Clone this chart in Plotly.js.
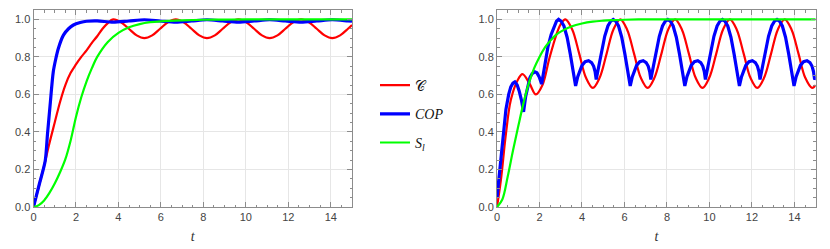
<!DOCTYPE html>
<html>
<head>
<meta charset="utf-8">
<script src="https://cdn.plot.ly/plotly-3.0.1.min.js"></script>
<style>html,body{margin:0;padding:0;background:#fff;}#chart{width:830px;height:249px;}</style>
</head>
<body>
<div id="chart"></div>
<script>
// ---- Left panel data ----
const tLeftC = [0,0.25,0.5,0.75,1.0,1.25,1.5,1.75,2.0,2.25,2.5,2.75,3.0,3.25,3.5,3.75,4.12,4.49,4.86,5.22,5.59,5.96,6.33,6.70,7.07,7.44,7.81,8.17,8.54,8.91,9.28,9.65,10.02,10.39,10.76,11.12,11.49,11.86,12.23,12.60,12.97,13.34,13.71,14.07,14.44,14.81,15.0];
const cLeft = [0,0.11,0.22,0.34,0.45,0.56,0.65,0.715,0.76,0.8,0.835,0.875,0.91,0.95,0.98,1.0,0.985,0.95,0.915,0.9,0.915,0.95,0.985,1.0,0.985,0.95,0.915,0.9,0.915,0.95,0.985,1.0,0.985,0.95,0.915,0.9,0.915,0.95,0.985,1.0,0.985,0.95,0.915,0.9,0.915,0.95,0.97];

const tLeftCOP = [0,0.27,0.55,0.66,0.78,0.93,1.05,1.17,1.41,1.65,1.88,2.2,2.5,3.0,3.75,4.49,5.22,5.96,6.70,7.44,8.17,8.91,9.65,10.39,11.12,11.86,12.60,13.34,14.07,14.81,15.0];
const copLeft = [0,0.12,0.245,0.39,0.54,0.72,0.79,0.845,0.916,0.95,0.97,0.983,0.99,0.992,0.985,0.9915,0.998,0.9915,0.985,0.9915,0.998,0.9915,0.985,0.9915,0.998,0.9915,0.985,0.9915,0.998,0.9915,0.99];

const tLeftS = [0,0.25,0.5,0.75,1.0,1.25,1.5,1.75,2.0,2.25,2.5,2.75,3.0,3.5,4.0,4.5,5.0,5.5,6.0,7.0,8.0,9.0,10.0,12.0,15.0];
const sLeft = [0,0.01,0.035,0.075,0.125,0.185,0.255,0.355,0.48,0.585,0.67,0.74,0.8,0.88,0.928,0.958,0.975,0.985,0.99,0.995,0.998,0.999,1.0,1.0,1.0];

// ---- Right panel data ----
const tRightC = [0,0.18,0.42,0.65,0.97,1.2,1.52,1.83,2.14,2.46,2.8,3.0,3.22,3.54,3.87,4.19,4.51,4.83,5.16,5.48,5.80,6.12,6.45,6.77,7.09,7.41,7.74,8.06,8.38,8.70,9.03,9.35,9.67,9.99,10.32,10.64,10.96,11.28,11.61,11.93,12.25,12.57,12.90,13.22,13.54,13.86,14.19,14.51,14.83,15.0];
const cRight = [0,0.14,0.39,0.57,0.676,0.708,0.66,0.6,0.65,0.79,0.92,0.975,1.0,0.9465,0.8175,0.6885,0.635,0.6885,0.8175,0.9465,1.0,0.9465,0.8175,0.6885,0.635,0.6885,0.8175,0.9465,1.0,0.9465,0.8175,0.6885,0.635,0.6885,0.8175,0.9465,1.0,0.9465,0.8175,0.6885,0.635,0.6885,0.8175,0.9465,1.0,0.9465,0.8175,0.6885,0.635,0.65];

const tRightCOP = [0,0.09,0.18,0.3,0.42,0.55,0.65,0.75,0.84,0.95,1.04,1.15,1.25,1.35,1.45,1.55,1.65,1.78,1.88,1.98,2.1,2.2,2.3,2.4,2.55,2.7,2.8,
  2.9,3.02,3.15,3.3,3.45,3.58,3.7,3.8,3.9,4.0,4.15,4.31,4.45,4.55,4.62,4.67,4.79,4.92,5.07,5.22,5.35,
  5.47,5.59,5.72,5.87,6.02,6.15,6.27,6.37,6.47,6.57,6.72,6.88,7.02,7.12,7.19,7.24,7.36,7.49,7.64,7.79,7.92,
  8.04,8.16,8.29,8.44,8.59,8.72,8.84,8.94,9.04,9.14,9.29,9.45,9.59,9.69,9.76,9.81,9.93,10.06,10.21,10.36,10.49,
  10.61,10.73,10.86,11.01,11.16,11.29,11.41,11.51,11.61,11.71,11.86,12.02,12.16,12.26,12.33,12.38,12.50,12.63,12.78,12.93,13.06,
  13.18,13.30,13.43,13.58,13.73,13.86,13.98,14.08,14.18,14.28,14.43,14.59,14.73,14.83,14.90,14.95,15.0];
const copRight = [0.05,0.15,0.25,0.39,0.52,0.6,0.64,0.66,0.667,0.65,0.62,0.57,0.507,0.59,0.65,0.69,0.71,0.72,0.715,0.695,0.655,0.72,0.79,0.855,0.92,0.97,0.99,
  1.0,0.99,0.965,0.905,0.815,0.735,0.645,0.695,0.73,0.755,0.775,0.78,0.77,0.75,0.72,0.68,0.75,0.83,0.91,0.965,0.99,
  1.0,0.99,0.965,0.905,0.815,0.735,0.645,0.695,0.73,0.755,0.775,0.78,0.77,0.75,0.72,0.68,0.75,0.83,0.91,0.965,0.99,
  1.0,0.99,0.965,0.905,0.815,0.735,0.645,0.695,0.73,0.755,0.775,0.78,0.77,0.75,0.72,0.68,0.75,0.83,0.91,0.965,0.99,
  1.0,0.99,0.965,0.905,0.815,0.735,0.645,0.695,0.73,0.755,0.775,0.78,0.77,0.75,0.72,0.68,0.75,0.83,0.91,0.965,0.99,
  1.0,0.99,0.965,0.905,0.815,0.735,0.645,0.695,0.73,0.755,0.775,0.78,0.77,0.75,0.72,0.68,0.69];

const tRightS = [0,0.25,0.5,0.75,1.0,1.25,1.5,1.75,2.0,2.25,2.5,2.75,3.0,3.5,4.0,4.5,5.0,5.5,6.0,7.0,8.0,10.0,15.0];
const sRight = [0,0.04,0.16,0.3,0.43,0.555,0.66,0.74,0.8,0.85,0.885,0.915,0.935,0.962,0.978,0.988,0.993,0.996,0.998,1.0,1.0,1.0,1.0];

// ---- Labels ----
const seriesNames = ['\uD835\uDC9E', '<i>COP</i>', '<i>S</i><sub><i>l</i></sub>'];
const xTickVals = [0,2,4,6,8,10,12,14];
const yTickVals = [0,0.2,0.4,0.6,0.8,1.0];
const xTitle = '<i>t</i>';

const RED = '#ff0000', BLUE = '#0000ff', GREEN = '#00ff00';

const traces = [
  {x:tLeftC, y:cLeft, xaxis:'x', yaxis:'y', mode:'lines', name:seriesNames[0], legendgroup:'a',
   line:{color:RED, width:2.2, shape:'spline', smoothing:1}},
  {x:tLeftCOP, y:copLeft, xaxis:'x', yaxis:'y', mode:'lines', name:seriesNames[1], legendgroup:'b',
   line:{color:BLUE, width:3.2, shape:'spline', smoothing:0.8}},
  {x:tLeftS, y:sLeft, xaxis:'x', yaxis:'y', mode:'lines', name:seriesNames[2], legendgroup:'c',
   line:{color:GREEN, width:2.2, shape:'spline', smoothing:1}},
  {x:tRightC, y:cRight, xaxis:'x2', yaxis:'y2', mode:'lines', showlegend:false,
   line:{color:RED, width:2.2, shape:'spline', smoothing:1}},
  {x:tRightCOP, y:copRight, xaxis:'x2', yaxis:'y2', mode:'lines', showlegend:false,
   line:{color:BLUE, width:3.2}},
  {x:tRightS, y:sRight, xaxis:'x2', yaxis:'y2', mode:'lines', showlegend:false,
   line:{color:GREEN, width:2.2, shape:'spline', smoothing:1}}
];

const FRAME = '#8c8c8c';
function xAxis(domain, anchor){
  return {domain:domain, anchor:anchor, range:[0,15], tickvals:xTickVals, ticks:'inside', ticklen:5, tickcolor:FRAME,
    showline:true, linecolor:FRAME, linewidth:1, mirror:'allticks', showgrid:true, gridcolor:'#e6e6e6', zeroline:false,
    tickfont:{family:'Liberation Sans, Arial, sans-serif', size:11, color:'#444'},
    minor:{dtick:0.5, tick0:0, ticks:'inside', ticklen:2.5, tickcolor:FRAME, showgrid:false},
    title:{text:xTitle, font:{family:'Liberation Serif, serif', size:14, color:'#333'}, standoff:8},
    fixedrange:true};
}
function yAxis(anchor){
  return {domain:[0,1], anchor:anchor, range:[0,1.05], tickvals:yTickVals, tickformat:'.1f', ticks:'inside', ticklen:5, tickcolor:FRAME,
    showline:true, linecolor:FRAME, linewidth:1, mirror:'allticks', showgrid:true, gridcolor:'#e6e6e6', zeroline:false,
    tickfont:{family:'Liberation Sans, Arial, sans-serif', size:11, color:'#444'},
    minor:{dtick:0.05, tick0:0, ticks:'inside', ticklen:2.5, tickcolor:FRAME, showgrid:false},
    fixedrange:true};
}

const layout = {
  width:830, height:249,
  margin:{l:0, r:0, t:10, b:42, pad:0},
  paper_bgcolor:'#fff', plot_bgcolor:'#fff',
  xaxis: xAxis([33.5/830, 352/830], 'y'),
  yaxis: yAxis('x'),
  xaxis2: xAxis([497/830, 815.7/830], 'y2'),
  yaxis2: yAxis('x2'),
  showlegend:true,
  legend:{x:375/830, y:0.698, xanchor:'left', yanchor:'top', bgcolor:'rgba(0,0,0,0)',
    font:{family:'Liberation Serif, DejaVu Serif, serif', size:14, color:'#111'},
    tracegroupgap:7.5, itemwidth:30}
};

Plotly.newPlot('chart', traces, layout, {displayModeBar:false, staticPlot:true});
</script>
</body>
</html>
